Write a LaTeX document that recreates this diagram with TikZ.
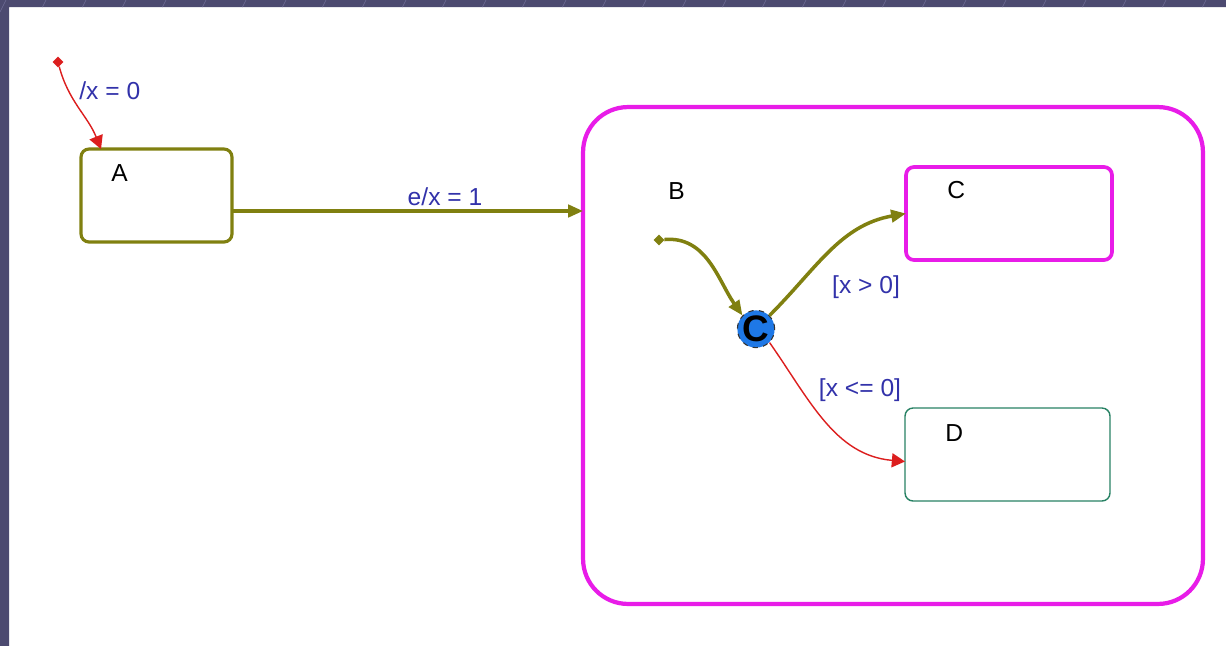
\documentclass[tikz,border=0pt]{standalone}
\usepackage{fontspec}
\setmainfont{Liberation Sans}
\usetikzlibrary{arrows.meta,calc,positioning,shapes.geometric}
\definecolor{frameC}{RGB}{76,74,112}
\definecolor{stripeC}{RGB}{110,108,150}
\definecolor{olive}{RGB}{128,128,16}
\definecolor{magentaS}{RGB}{232,28,232}
\definecolor{tealS}{RGB}{40,130,100}
\definecolor{redT}{RGB}{220,30,30}
\definecolor{labelC}{RGB}{50,50,170}
\definecolor{junctC}{RGB}{30,120,230}

\begin{document}
\begin{tikzpicture}[x=0.02cm, y=-0.02cm, every node/.style={font=\fontsize{14}{16}\selectfont}]
  \tikzset{
    state/.style={draw, rounded corners=0.16cm, inner sep=0pt, outer sep=0pt,
      minimum height=1.86cm},
    stname/.style={anchor=base west, inner sep=0pt, text=black},
    trlabel/.style={inner sep=0pt, text=labelC},
    olivetr/.style={olive, line width=2pt, -{Triangle[length=8.5pt,width=7pt]}},
    redtr/.style={redT, line width=0.8pt, -{Triangle[length=7.5pt,width=8pt]}},
    initdot/.style={diamond, inner sep=0pt, minimum size=0.22cm},
  }
  \useasboundingbox (0,0) rectangle (1226,646);
  \fill[white] (0,0) rectangle (1226,646);
  % slide frame (top and left bands, faint stripes)
  \begin{scope}
    \clip (0,0) rectangle (1226,7) (0,0) rectangle (9,646);
    \fill[frameC] (0,0) rectangle (1226,646);
    \foreach \s in {0,40,...,1240} {
      \draw[stripeC, line width=0.3pt] (\s,12) -- ++(12,-24);
    }
  \end{scope}
  % states
  \node[state, olive, line width=1.8pt, minimum width=3.02cm] (A) at (156.5,195.5) {};
  \node[state, magentaS, line width=2.4pt, rounded corners=0.9cm,
        minimum width=12.4cm, minimum height=9.94cm] (B) at (893,355.5) {};
  \node[state, magentaS, line width=2.1pt, minimum width=4.12cm] (C) at (1009,213.5) {};
  \node[state, tealS, line width=0.8pt, minimum width=4.1cm] (D) at (1007.5,454.5) {};
  \node[stname] (nA) at (111,181) {A};
  \node[stname] (nB) at (668,199) {B};
  \node[stname] (nC) at (947,198) {C};
  \node[stname] (nD) at (945,441) {D};
  % connective junction
  \node[circle, fill=junctC, draw=black!80, dashed, line width=0.6pt,
        minimum size=0.74cm, inner sep=0pt] (J) at (756,329)
        {\fontsize{21}{21}\selectfont\bfseries C};
  % default transition into A
  \node[initdot, fill=redT] (initA) at (58,62) {};
  \draw[redtr] (initA) to[out=-75, in=112] ($(A.north west)+(20,0)$);
  \node[trlabel, anchor=west] (lA) at (79,91) {/x = 0};
  % A to B
  \coordinate (exA) at ($(A.east)+(0,15.5)$);
  \draw[olivetr] (exA) -- (exA -| B.west);
  \node[trlabel, anchor=south] (lAB) at (445,206) {e/x = 1};
  % default transition inside B
  \node[initdot, fill=olive] (initB) at (659,240) {};
  \draw[olivetr] (initB) to[out=5, in=125] (J.north west);
  % junction to C and D
  \draw[olivetr] (J.north east) to[out=45, in=190] (C.west);
  \node[trlabel] (lC) at (866,287) {[x > 0]};
  \draw[redtr] (J.south east) to[out=-55, in=175] ($(D.west)+(0,7)$);
  \node[trlabel] (lD) at (860,390) {[x <= 0]};
\end{tikzpicture}
\end{document}
